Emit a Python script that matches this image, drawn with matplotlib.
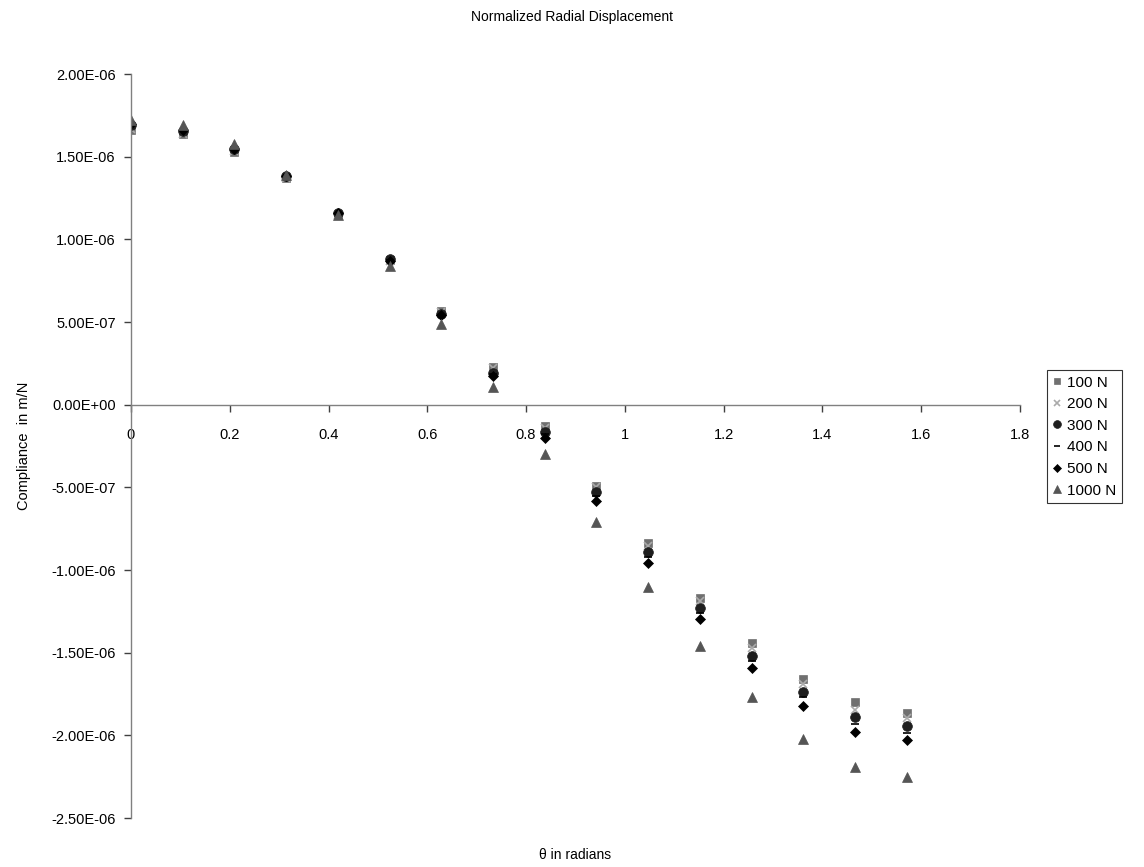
import matplotlib
matplotlib.use("Agg")
import matplotlib.pyplot as plt
from matplotlib.ticker import FuncFormatter, MultipleLocator

plt.rcParams['font.family'] = ['Liberation Sans', 'DejaVu Sans']

# angle positions (rad)
theta = [0.0, 0.1047, 0.2094, 0.3142, 0.4189, 0.5236, 0.6283, 0.7330,
         0.8378, 0.9425, 1.0472, 1.1519, 1.2566, 1.3614, 1.4661, 1.5708]

# compliance values, in units of 1e-6 m/N
c_100 = [1.665, 1.635, 1.53, 1.37, 1.15, 0.875, 0.565, 0.23,
         -0.13, -0.49, -0.835, -1.167, -1.44, -1.66, -1.80, -1.865]
c_200 = [1.67, 1.64, 1.535, 1.37, 1.15, 0.87, 0.56, 0.22,
         -0.14, -0.50, -0.855, -1.185, -1.47, -1.69, -1.845, -1.895]
c_300 = [1.69, 1.655, 1.545, 1.385, 1.16, 0.88, 0.55, 0.19,
         -0.165, -0.53, -0.89, -1.228, -1.518, -1.74, -1.89, -1.945]
c_400 = [1.69, 1.66, 1.55, 1.385, 1.155, 0.875, 0.545, 0.185,
         -0.175, -0.555, -0.92, -1.258, -1.55, -1.77, -1.93, -1.985]
c_500 = [1.70, 1.665, 1.55, 1.385, 1.16, 0.87, 0.54, 0.175,
         -0.20, -0.585, -0.955, -1.294, -1.59, -1.82, -1.98, -2.03]
c_1000 = [1.725, 1.69, 1.575, 1.39, 1.145, 0.84, 0.49, 0.11,
          -0.295, -0.707, -1.10, -1.46, -1.77, -2.02, -2.19, -2.25]

labels = ['100 N', '200 N', '300 N', '400 N', '500 N', '1000 N']
series = [c_100, c_200, c_300, c_400, c_500, c_1000]
markers = ['s', 'x', 'o', '_', 'D', '^']
colours = ['#707070', '#aaaaaa', '#1e1e1e', '#000000', '#000000', '#555555']
sizes = [6, 6, 7, 6, 5.5, 7.5]

fig = plt.figure(figsize=(11.44, 8.67), dpi=100)
ax = fig.add_axes([0.1145, 0.0565, 0.777, 0.858])

for vals, lab, mk, col, ms in zip(series, labels, markers, colours, sizes):
    ax.plot(theta, [v * 1e-6 for v in vals], linestyle='none', marker=mk,
            color=col, markersize=ms, markeredgewidth=1.2 if mk in 'x_' else 0.5,
            label=lab)

ax.set_xlim(0, 1.8)
ax.set_ylim(-2.5e-6, 2.0e-6)
ax.xaxis.set_major_locator(MultipleLocator(0.2))
ax.yaxis.set_major_locator(MultipleLocator(5e-7))
ax.xaxis.set_major_formatter(FuncFormatter(lambda v, p: '%g' % round(v, 2)))
ax.yaxis.set_major_formatter(FuncFormatter(lambda v, p: '%.2E' % (0.0 if abs(v) < 1e-12 else v)))

ax.spines['top'].set_visible(False)
ax.spines['right'].set_visible(False)
ax.spines['bottom'].set_position(('data', 0))
for s in ('left', 'bottom'):
    ax.spines[s].set_color('#808080')
    ax.spines[s].set_linewidth(1.0)
ax.tick_params(axis='both', direction='out', length=5, width=1, color='#404040',
               labelsize=10.5, pad=6)
ax.tick_params(axis='x', pad=12)

ax.set_xlabel('\u03b8 in radians', fontsize=10)
ax.xaxis.set_label_coords(0.5, -0.04)
ax.set_ylabel('Compliance  in m/N', fontsize=10.5)
ax.yaxis.set_label_coords(-0.113, 0.5)
fig.suptitle('Normalized Radial Displacement', y=0.988, fontsize=10)

leg = ax.legend(loc='upper left', bbox_to_anchor=(0.915, 0.573),
                bbox_transform=fig.transFigure, fontsize=11, frameon=True,
                fancybox=False, edgecolor='black', handlelength=0.7,
                handletextpad=0.3, labelspacing=0.5, borderpad=0.35,
                borderaxespad=0, markerscale=0.8)
leg.get_frame().set_linewidth(0.8)

fig.savefig('out.png', dpi=100)
